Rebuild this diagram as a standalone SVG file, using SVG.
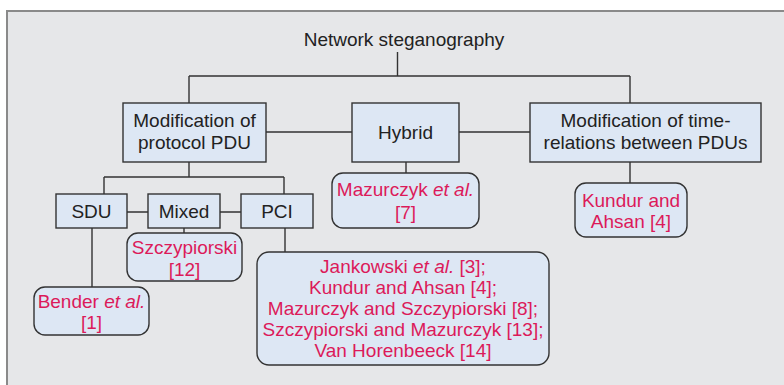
<svg xmlns="http://www.w3.org/2000/svg" width="784" height="385" viewBox="0 0 784 385">
<style>
.bg{fill:#e6e7e9;stroke:#8a8a8a;stroke-width:2}
.box{fill:#dde7f4;stroke:#333;stroke-width:1.4}
.con{fill:none;stroke:#333;stroke-width:1.4}
text{font-family:"Liberation Sans","DejaVu Sans",sans-serif;font-size:19px;text-anchor:middle}
.k{fill:#222}
.r{fill:#dc1a5a}
.i{font-style:italic}
</style>
<rect x="0" y="0" width="784" height="385" fill="#fff"/>
<rect class="bg" x="7" y="11" width="790" height="390"/>
<g id="connectors">
<path class="con" d="M397.5,52V76M189,76H630M189,76V103M630,76V103"/>
<path class="con" d="M266,132H352M459,132H530"/>
<path class="con" d="M189,162V177M104,177H284M104,177V194M284,177V194"/>
<path class="con" d="M406,162V173M630,162V183"/>
<path class="con" d="M127,212H148M220,212H241"/>
<path class="con" d="M92,228V287M184,228V233M285,228V252"/>
</g>
<g id="root"><text class="k" x="404" y="46">Network steganography</text></g>
<g id="mod-pdu"><rect class="box" x="123" y="103" width="143" height="59"/><text class="k" x="194.5" y="127">Modification of</text><text class="k" x="194.5" y="149">protocol PDU</text></g>
<g id="hybrid"><rect class="box" x="352" y="103" width="107" height="59"/><text class="k" x="405.5" y="139">Hybrid</text></g>
<g id="mod-time"><rect class="box" x="530" y="103" width="231" height="59"/><text class="k" x="645.5" y="127">Modification of time-</text><text class="k" x="645.5" y="149">relations between PDUs</text></g>
<g id="sdu"><rect class="box" x="56" y="194" width="71" height="34"/><text class="k" x="91.5" y="218">SDU</text></g>
<g id="mixed"><rect class="box" x="148" y="194" width="72" height="34"/><text class="k" x="184" y="218">Mixed</text></g>
<g id="pci"><rect class="box" x="241" y="194" width="72" height="34"/><text class="k" x="277" y="218">PCI</text></g>
<g id="ref-hybrid"><rect class="box" x="332" y="173" width="147" height="55" rx="11"/><text class="r" x="405.5" y="196">Mazurczyk <tspan class="i">et al.</tspan></text><text class="r" x="405.5" y="219">[7]</text></g>
<g id="ref-time"><rect class="box" x="575" y="183" width="112" height="54" rx="11"/><text class="r" x="631" y="207">Kundur and</text><text class="r" x="631" y="228">Ahsan [4]</text></g>
<g id="ref-mixed"><rect class="box" x="127" y="233" width="115" height="48" rx="11"/><text class="r" x="184.5" y="254">Szczypiorski</text><text class="r" x="184.5" y="276">[12]</text></g>
<g id="ref-sdu"><rect class="box" x="34" y="287" width="115" height="48" rx="11"/><text class="r" x="91.5" y="308">Bender <tspan class="i">et al.</tspan></text><text class="r" x="91.5" y="329">[1]</text></g>
<g id="ref-pci"><rect class="box" x="257" y="252" width="292" height="113" rx="12"/>
<text class="r" x="403" y="273">Jankowski <tspan class="i">et al.</tspan> [3];</text>
<text class="r" x="403" y="294">Kundur and Ahsan [4];</text>
<text class="r" x="403" y="315">Mazurczyk and Szczypiorski [8];</text>
<text class="r" x="403" y="336">Szczypiorski and Mazurczyk [13];</text>
<text class="r" x="403" y="357">Van Horenbeeck [14]</text></g>
</svg>
